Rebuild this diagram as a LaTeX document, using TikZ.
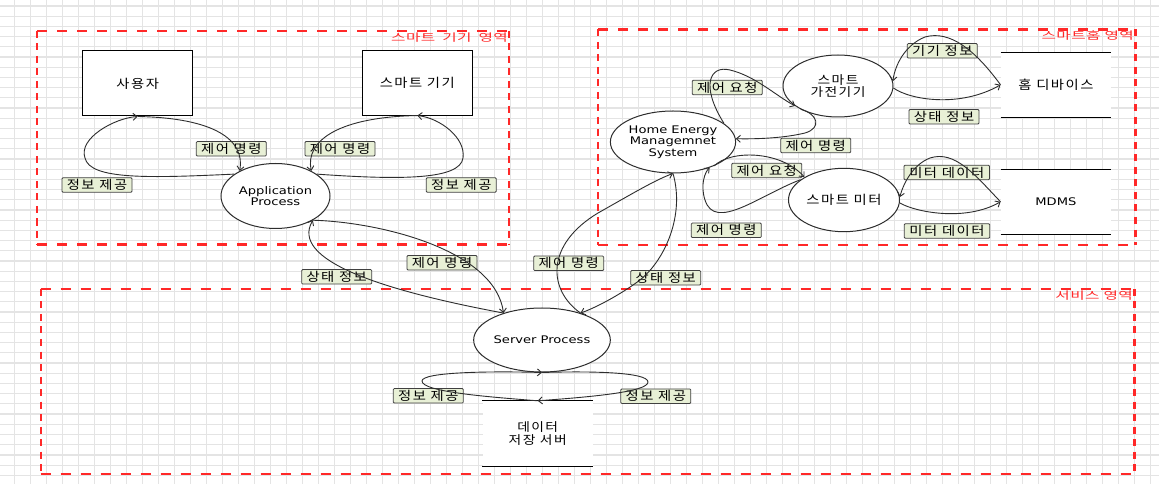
\documentclass[tikz,border=0pt]{standalone}
\usepackage{fontspec}
\setmainfont{DejaVu Sans}[FakeStretch=1.25]
\newfontfamily\kr{Noto Sans CJK KR}[FakeStretch=1.15, LetterSpace=12]
\newfontfamily\krred{Noto Sans CJK KR}[FakeStretch=1.5, LetterSpace=4]
\usetikzlibrary{shapes.geometric,arrows.meta}
\definecolor{lblfill}{RGB}{232,240,214}
\definecolor{zonered}{RGB}{255,40,40}
\definecolor{gridc}{RGB}{228,228,228}
\definecolor{linec}{RGB}{45,45,45}
\begin{document}
\begin{tikzpicture}[x=1bp,y=-1bp,
  gridline/.style={gridc, line width=1.2bp},
  zoneh/.style={zonered, line width=2.4bp, dash pattern=on 10bp off 10bp},
  zonev/.style={zonered, line width=2.4bp, dash pattern=on 7bp off 5.5bp},
  zonelabel/.style={text=zonered, inner sep=0pt, font=\krred\fontsize{10.5}{10.5}\selectfont},
  ent/.style={draw=black, line width=1bp, fill=white, minimum width=110bp, minimum height=65bp, inner sep=0pt, font=\kr\fontsize{12.5}{13}\selectfont},
  proc/.style={ellipse, draw=linec, line width=1bp, fill=white, minimum width=110bp, minimum height=64bp, inner sep=0pt, align=center, font=\fontsize{10.5}{11.6}\selectfont},
  krtext/.style={font=\kr\fontsize{12}{12.8}\selectfont},
  store/.style={rectangle, fill=white, minimum width=110.3bp, minimum height=65bp, inner sep=0pt, align=center, font=\kr\fontsize{12}{12.8}\selectfont},
  storeline/.style={draw=black, line width=1bp},
  lbl/.style={draw=black!75, fill=lblfill, line width=0.8bp, rounded corners=1bp, minimum width=70bp, minimum height=14.5bp, inner sep=0pt, font=\kr\fontsize{12.5}{12}\selectfont},
  flow/.style={draw=linec, line width=0.9bp, -{Straight Barb[length=4bp,width=7bp]}}
]
\useasboundingbox (0,0) rectangle (1159,484);
\fill[white] (0,0) rectangle (1159,484);
% grid
\foreach \i in {0,...,71} \draw[gridline] ({14.5+16*\i},0) -- ({14.5+16*\i},484);
\foreach \j in {0,...,47} \draw[gridline] (0,{6.1+10.2*\j}) -- (1159,{6.1+10.2*\j});
% zones
\draw[zoneh] (37,31) -- (509,31);
\draw[zoneh] (37,244.5) -- (509,244.5);
\draw[zonev] (37,31) -- (37,244.5);
\draw[zonev] (509,31) -- (509,244.5);
\draw[zoneh] (598,29.5) -- (1135.5,29.5);
\draw[zoneh] (598,245) -- (1135.5,245);
\draw[zonev] (598,29.5) -- (598,245);
\draw[zonev] (1135.5,29.5) -- (1135.5,245);
\draw[zoneh] (40.7,289) -- (1134.5,289);
\draw[zoneh] (40.7,474) -- (1134.5,474);
\draw[zonev] (40.7,289) -- (40.7,474);
\draw[zonev] (1134.5,289) -- (1134.5,474);
\node[zonelabel, anchor=base east] (z1) at (508,41.5) {스마트\hspace{3bp} 기기\hspace{3bp} 영역};
\node[zonelabel, anchor=base east] (z2) at (1134,39.5) {스마트홈 영역};
\node[zonelabel, anchor=base east] (z3) at (1133,299.5) {서비스 영역};
% labels
\node[lbl] (l1) at (231.3,148.8) {제어 명령};
\node[lbl] (l2) at (97,185) {정보 제공};
\node[lbl] (l3) at (340,148.8) {제어 명령};
\node[lbl] (l4) at (461.3,185) {정보 제공};
\node[lbl] (l5) at (336.7,276.8) {상태 정보};
\node[lbl] (l6) at (442,262.8) {제어 명령};
\node[lbl] (l7) at (568.7,263.3) {제어 명령};
\node[lbl] (l8) at (665.7,277.8) {상태 정보};
\node[lbl] (l9) at (428.3,395.8) {정보 제공};
\node[lbl] (l10) at (655.8,396.2) {정보 제공};
\node[lbl] (l11) at (942.3,50.8) {기기 정보};
\node[lbl] (l12) at (727.3,87.5) {제어 요청};
\node[lbl] (l13) at (944,116.7) {상태 정보};
\node[lbl] (l14) at (815.7,145.5) {제어 명령};
\node[lbl] (l15) at (766.7,170.5) {제어 요청};
\node[lbl, minimum width=85.5bp] (l16) at (946.8,172.5) {미터 데이터};
\node[lbl] (l17) at (726.3,230.3) {제어 명령};
\node[lbl, minimum width=85.5bp] (l18) at (947,231) {미터 데이터};
% entities
\node[ent] (user) at (137.7,83.5) {사용자};
\node[ent, minimum height=64.3bp] (dev) at (417.3,82.9) {스마트 기기};
\node[proc, minimum height=65bp, minimum width=109bp] (app) at (275.5,196) {Application\\Process};
\node[proc, minimum height=62bp] (hems) at (673,142) {Home Energy\\Managemnet\\System};
\node[proc, krtext, minimum height=62bp] (gad) at (838,86) {스마트\\가전기기};
\node[proc, krtext, minimum width=111bp, minimum height=63.4bp, font=\kr\fontsize{12.5}{13}\selectfont] (met) at (844,200) {스마트 미터};
\node[proc, minimum width=110.6bp] (serv) at (542,340) {Server Process};
\node[store, font=\kr\fontsize{12.5}{13}\selectfont] (hd) at (1055.9,84.8) {홈 디바이스};
\node[store, font=\fontsize{10.5}{11.6}\selectfont] (mdms) at (1055.9,201.8) {MDMS};
\node[store] (ds) at (537.7,433.5) {데이터\\저장 서버};
\foreach \s in {hd,mdms,ds} {
  \draw[storeline] (\s.north west) -- (\s.north east);
  \draw[storeline] (\s.south west) -- (\s.south east);
}
% flows
\draw[flow] (user.south) .. controls (215,118) and (245,140) .. (app.145);
\draw[flow] (app.152) .. controls (150,178) and (90,180) .. (85,158) .. controls (78,138) and (115,118) .. (user.south);
\draw[flow] (dev.south) .. controls (340,117) and (305,140) .. (app.35);
\draw[flow] (app.28) .. controls (400,180) and (460,180) .. (463,158) .. controls (466,138) and (440,118) .. (dev.south);
\draw[flow] (app.-33) .. controls (380,222) and (495,250) .. (serv.145);
\draw[flow] (serv.145) .. controls (380,290) and (290,260) .. (app.-33);
\draw[flow] (serv.35) .. controls (548,290) and (545,245) .. (598,213) .. controls (630,195) and (655,180) .. (hems.south);
\draw[flow] (hems.south) .. controls (685,215) and (665,260) .. (640,280) .. controls (620,295) and (595,308) .. (serv.35);
\draw[flow] (hems.20) .. controls (700,85) and (710,65) .. (730,70) .. controls (755,76) and (775,95) .. (gad.205);
\draw[flow] (gad.212) .. controls (818,114) and (822,128) .. (805,133) .. controls (780,139) and (750,139) .. (hems.3);
\draw[flow] (hems.-30) .. controls (730,150) and (780,150) .. (met.150);
\draw[flow] (met.155) .. controls (760,195) and (715,232) .. (705,200) .. controls (700,185) and (705,172) .. (hems.-35);
\draw[flow] (hd.west) .. controls (975,50) and (950,30) .. (925,37) .. controls (905,45) and (895,65) .. (gad.5);
\draw[flow] (gad.-2) .. controls (910,100) and (960,108) .. (hd.west);
\draw[flow] (mdms.west) .. controls (975,175) and (955,150) .. (930,158) .. controls (912,165) and (903,185) .. (met.3);
\draw[flow] (met.-3) .. controls (915,212) and (965,222) .. (mdms.west);
\draw[flow] (ds.north) .. controls (490,397) and (422,392) .. (422,381) .. controls (422,372) and (490,371) .. (serv.south);
\draw[flow] (serv.south) .. controls (590,371) and (648,372) .. (648,382) .. controls (648,392) and (590,397) .. (ds.north);
\end{tikzpicture}
\end{document}
